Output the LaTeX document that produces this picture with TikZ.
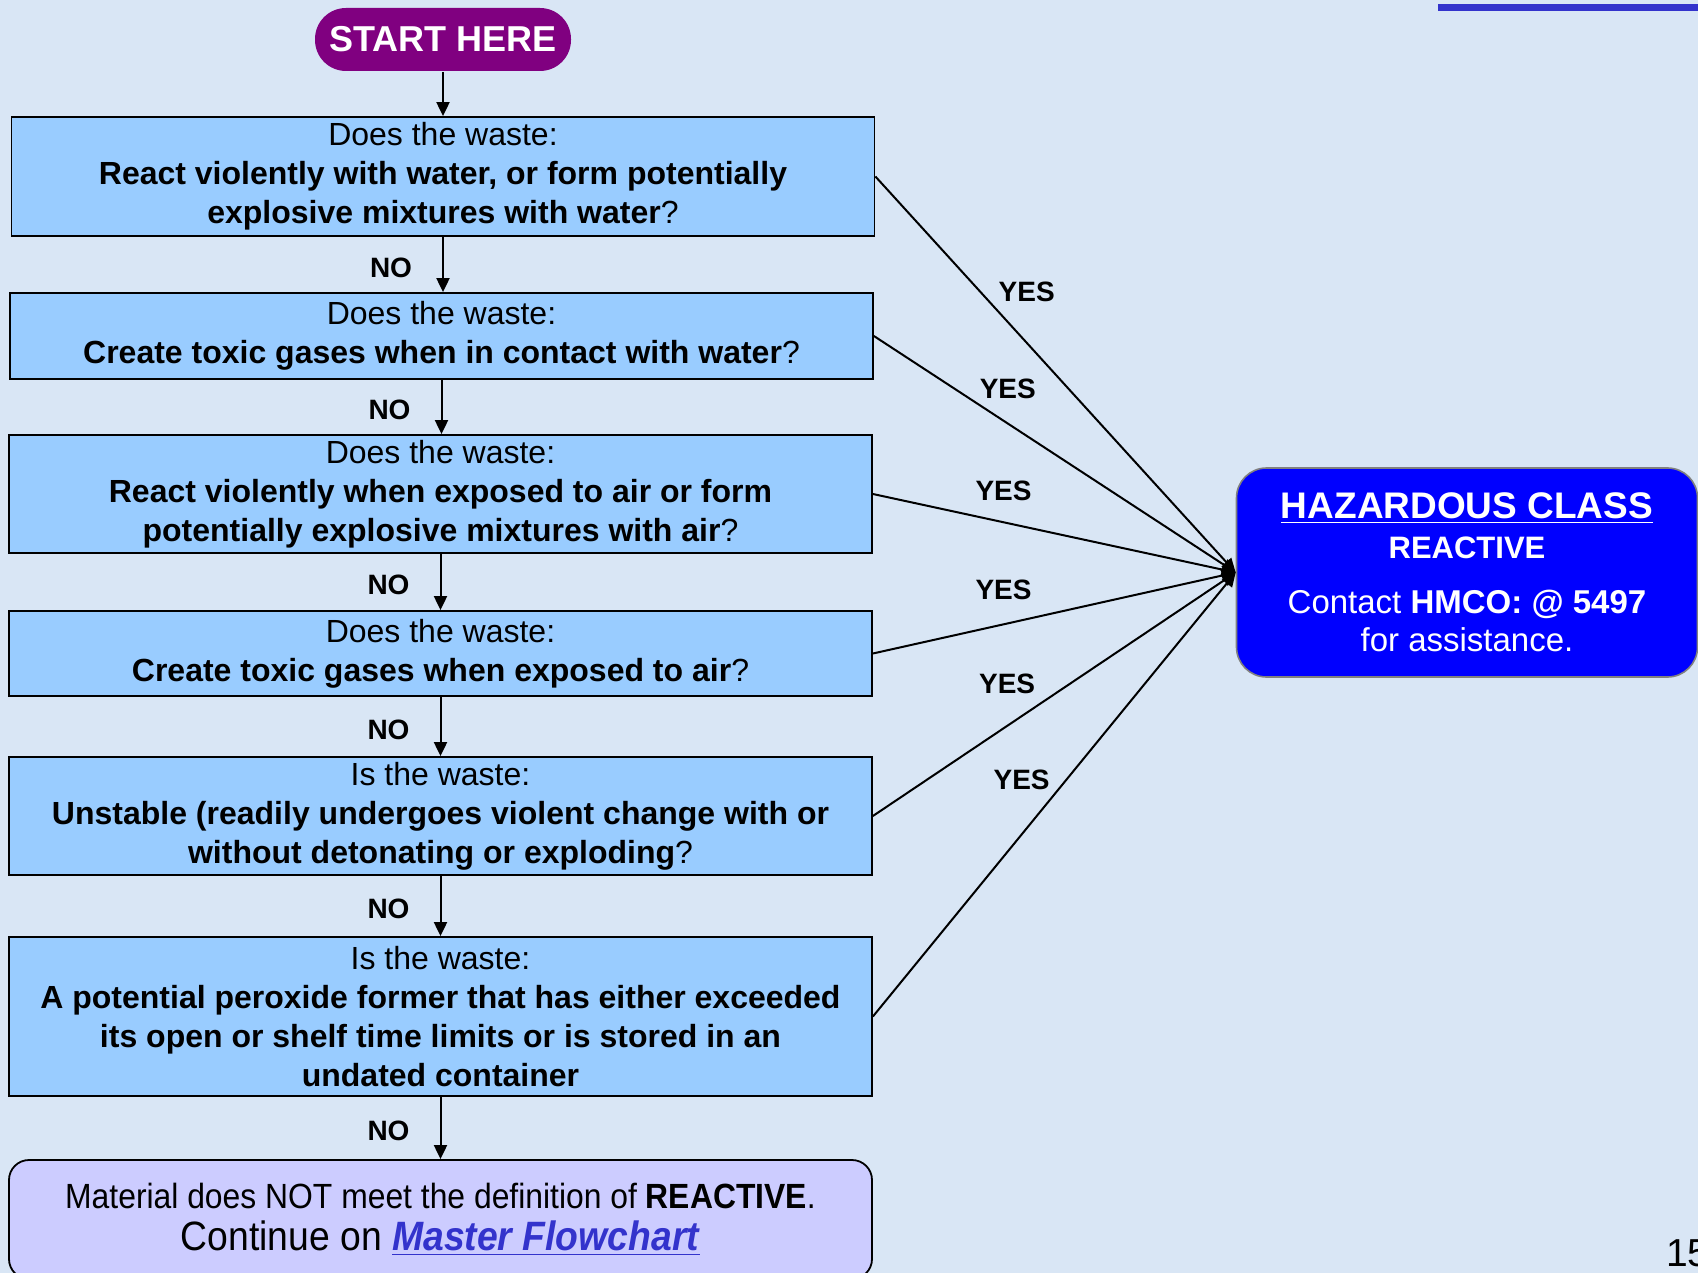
\documentclass[tikz,border=0pt]{standalone}
\usepackage{fontspec}
\setmainfont{Liberation Sans}
\newfontfamily\narrowfont[FakeStretch=0.91]{Liberation Sans}
\usetikzlibrary{arrows.meta}
\definecolor{pagebg}{RGB}{217,230,245}
\definecolor{qblue}{RGB}{153,204,255}
\definecolor{startpurple}{RGB}{128,0,128}
\definecolor{hazblue}{RGB}{0,0,255}
\definecolor{endlilac}{RGB}{204,204,255}
\definecolor{linkblue}{RGB}{51,51,204}

\begin{document}
\begin{tikzpicture}[x=0.5pt, y=-0.5pt, >={Triangle[length=7pt,width=6.5pt]}, line width=1pt,
  question/.style={rectangle, draw=black, line width=0.9pt, fill=qblue, align=center, inner sep=0pt, minimum width=431.5pt, font=\fontsize{16}{19.4}\selectfont, execute at begin node={\rule{0pt}{15pt}}},
  startnode/.style={rectangle, rounded corners=15.5pt, fill=startpurple, text=white, minimum width=128pt, minimum height=31.5pt, font=\bfseries\fontsize{18}{20}\selectfont},
  hazard/.style={rectangle, rounded corners=15pt, draw=gray, line width=0.8pt, fill=hazblue, text=white, align=center, minimum width=230.5pt, minimum height=104.5pt, font=\fontsize{16.5}{19}\selectfont},
  finalbox/.style={rectangle, rounded corners=10pt, draw=black, line width=0.9pt, fill=endlilac, align=center, minimum width=431.5pt, minimum height=59.5pt, font=\narrowfont\fontsize{17.5}{21}\selectfont},
  answer/.style={inner sep=0pt, font=\bfseries\fontsize{14}{16}\selectfont}]
\useasboundingbox (0,0) rectangle (1698,1273);
\fill[pagebg] (0,0) rectangle (1698,1273);
\fill[linkblue] (1438,4) rectangle (1698,11);

\node[startnode] (start) at (443,39.5) {START HERE};
\node[question, minimum height=59.5pt] (q1) at (443,176.5) {Does the waste:\\ \textbf{React violently with water, or form potentially}\\ \textbf{explosive mixtures with water}?};
\node[question, minimum height=43pt] (q2) at (441.5,336) {Does the waste:\\ \textbf{Create toxic gases when in contact with water}?};
\node[question, minimum height=59pt] (q3) at (440.5,494) {Does the waste:\\ \textbf{React violently when exposed to air or form}\\ \textbf{potentially explosive mixtures with air}?};
\node[question, minimum height=42.5pt] (q4) at (440.5,653.5) {Does the waste:\\ \textbf{Create toxic gases when exposed to air}?};
\node[question, minimum height=59pt] (q5) at (440.5,816) {Is the waste:\\ \textbf{Unstable (readily undergoes violent change with or}\\ \textbf{without detonating or exploding}?};
\node[question, minimum height=79.5pt] (q6) at (440.5,1016.5) {Is the waste:\\ \textbf{A potential peroxide former that has either exceeded}\\ \textbf{its open or shelf time limits or is stored in an}\\ \textbf{undated container}};
\node[finalbox] (done) at (440.5,1219.5) {Material does NOT meet the definition of \textbf{REACTIVE}.\\ {\fontsize{20.5}{21}\selectfont Continue on \textcolor{linkblue}{\underline{\textbf{\itshape Master Flowchart}}}}};
\node[hazard] (haz) at (1467,572.5) {{\bfseries\fontsize{18.5}{19}\selectfont\underline{HAZARDOUS CLASS}}\\[1pt]
  {\bfseries\fontsize{15.5}{19}\selectfont REACTIVE}\\[8.5pt]
  Contact \textbf{HMCO:\ @ 5497}\\ for assistance.};
\node[anchor=west, inner sep=0pt, font=\fontsize{19.5}{20}\selectfont] (pagenum) at (1665,1253) {15};

% down the NO branch
\draw[->] (start.south) -- (start.south |- q1.north);
\draw[->] (q1.south) -- node[answer, midway, left=15pt, yshift=-1.5pt] {NO} (q1.south |- q2.north);
\draw[->] (q2.south) -- node[answer, midway, left=15pt, yshift=-1.5pt] {NO} (q2.south |- q3.north);
\draw[->] (q3.south) -- node[answer, midway, left=15pt, yshift=-1.5pt] {NO} (q3.south |- q4.north);
\draw[->] (q4.south) -- node[answer, midway, left=15pt, yshift=-1.5pt] {NO} (q4.south |- q5.north);
\draw[->] (q5.south) -- node[answer, midway, left=15pt, yshift=-1.5pt] {NO} (q5.south |- q6.north);
\draw[->] (q6.south) -- node[answer, midway, left=15pt, yshift=-1.5pt] {NO} (q6.south |- done.north);

% every YES goes to the class box
\draw[->] (q1.east) -- node[answer, pos=0.42, yshift=25.5pt] {YES} (haz.west);
\draw[->] (q2.east) -- node[answer, pos=0.37, yshift=17.5pt] {YES} (haz.west);
\draw[->] (q3.east) -- node[answer, pos=0.36, yshift=15.5pt] {YES} (haz.west);
\draw[->] (q4.east) -- node[answer, pos=0.36, yshift=17pt] {YES} (haz.west);
\draw[->] (q5.east) -- node[answer, pos=0.37, yshift=21pt] {YES} (haz.west);
\draw[->] (q6.east) -- node[answer, pos=0.41, yshift=27.5pt] {YES} (haz.west);
\end{tikzpicture}
\end{document}
